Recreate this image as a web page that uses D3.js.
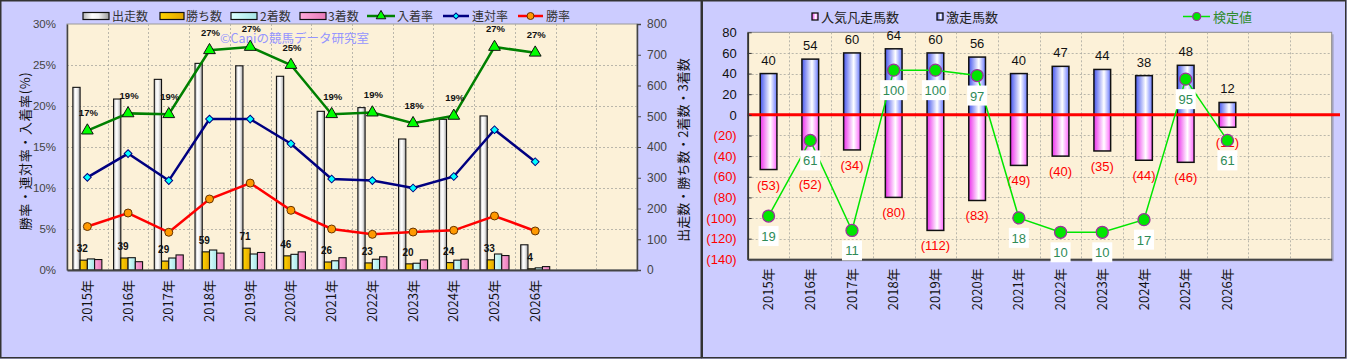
<!DOCTYPE html>
<html><head><meta charset="utf-8">
<script src="https://cdn.jsdelivr.net/npm/d3@7"></script>
<style>
html,body{margin:0;padding:0;background:#ccccff;}
svg{display:block;font-family:"Liberation Sans","Noto Sans CJK JP",sans-serif;}
</style></head><body>
<svg id="c" width="1347" height="359"></svg>
<script>
// ---------- DATA ----------
const years = ["2015年","2016年","2017年","2018年","2019年","2020年","2021年","2022年","2023年","2024年","2025年","2026年"];
const slotCount = 14; // two empty slots after 2026
// left chart
const runs    = [594,556,620,672,664,630,516,528,426,490,501,82];
const wins    = [32,39,29,59,71,46,26,23,20,24,33,4];
const seconds = [36,40,39,65,52,51,30,35,22,32,52,7];
const thirds  = [34,27,49,55,57,59,40,43,33,35,47,11];
const placeRate    = [17.0,19.1,19.0,26.8,27.2,25.0,19.0,19.2,17.9,18.8,27.2,26.5];
const placeLabels  = ["17%","19%","19%","27%","27%","25%","19%","19%","18%","19%","27%","27%"];
const quinellaRate = [11.3,14.2,10.9,18.4,18.4,15.4,11.1,10.9,10.0,11.4,17.1,13.2];
const winRate      = [5.3,6.95,4.6,8.66,10.6,7.28,5.0,4.35,4.63,4.84,6.59,4.76];
const pctTicks   = [0,5,10,15,20,25,30];
const countTicks = [0,100,200,300,400,500,600,700,800];
// right chart
const hotRuns   = [40,54,60,64,60,56,40,47,44,38,48,12];
const favFails  = [53,52,34,80,112,83,49,40,35,44,46,12];
const testValues = [19,61,11,100,100,97,18,10,10,17,95,61];
const rightTicks = [80,60,40,20,0,-20,-40,-60,-80,-100,-120,-140];

// ---------- SETUP ----------
const W = 1347, H = 359;
const svg = d3.select("#c");
svg.append("rect").attr("width", W).attr("height", H).attr("fill", "#ccccff");
const defs = svg.append("defs");
function grad(id, stops) {
  const g = defs.append("linearGradient").attr("id", id).attr("x1", 0).attr("y1", 0).attr("x2", 1).attr("y2", 0);
  stops.forEach(([o, c]) => g.append("stop").attr("offset", o).attr("stop-color", c));
}
grad("gRuns",   [[0,"#b5b5b5"],[0.35,"#ffffff"],[0.6,"#f2f2f2"],[1,"#9c9c9c"]]);
grad("gWin",    [[0,"#ffd400"],[1,"#e3a600"]]);
grad("gSecond", [[0,"#dcffff"],[1,"#a6e6e6"]]);
grad("gThird",  [[0,"#ffaadb"],[1,"#e77ab8"]]);
grad("gHot",    [[0,"#4656ee"],[0.6,"#ffffff"],[1,"#6878ff"]]);
grad("gFav",    [[0,"#ec30ec"],[0.6,"#ffffff"],[1,"#ff66ff"]]);

// panel borders
svg.append("rect").attr("x", 0.75).attr("y", 0.75).attr("width", 700.5).attr("height", 357)
  .attr("fill", "none").attr("stroke", "#333").attr("stroke-width", 1.5);
svg.append("rect").attr("x", 702.25).attr("y", 0.75).attr("width", 643.5).attr("height", 357)
  .attr("fill", "none").attr("stroke", "#333").attr("stroke-width", 1.5);

const CJK = "'Noto Sans CJK JP','Liberation Sans',sans-serif";

// ================= LEFT CHART =================
const L = {x0: 67, x1: 637, y0: 24, y1: 270};
const xL = d3.scaleBand().domain(d3.range(slotCount)).range([L.x0, L.x1]);
const bw = xL.bandwidth();
const yPct = d3.scaleLinear().domain([0, 30]).range([L.y1, L.y0]);
const yCnt = d3.scaleLinear().domain([0, 800]).range([L.y1, L.y0]);
const gL = svg.append("g");

gL.append("rect").attr("x", L.x0).attr("y", L.y0).attr("width", L.x1 - L.x0).attr("height", L.y1 - L.y0)
  .attr("fill", "#fcf1d8").attr("stroke", "#9a9a9a");
// grid
gL.append("g").selectAll("line").data(pctTicks.filter(d => d > 0 && d < 30)).join("line")
  .attr("x1", L.x0).attr("x2", L.x1)
  .attr("y1", d => Math.round(yPct(d)) + 0.5).attr("y2", d => Math.round(yPct(d)) + 0.5)
  .attr("stroke", "#a8a8a0").attr("stroke-dasharray", "2,2").attr("stroke-width", 0.8);
gL.append("g").selectAll("line").data(d3.range(1, slotCount)).join("line")
  .attr("x1", i => Math.round(xL(i)) + 0.5).attr("x2", i => Math.round(xL(i)) + 0.5)
  .attr("y1", L.y0).attr("y2", L.y1)
  .attr("stroke", "#a8a8a0").attr("stroke-dasharray", "2,2").attr("stroke-width", 0.8);

// watermark
gL.append("text").attr("x", 220).attr("y", 42.5).attr("font-size", 12.5).attr("fill", "#9595ff")
  .style("font-family", CJK).text("©Caniの競馬データ研究室");

// bars
const inner = d3.scaleBand().domain(["runs","win","second","third"]).range([bw/2 - 14.5, bw/2 + 14.5]);
const barSeries = [
  {key: "runs", vals: runs, fill: "url(#gRuns)"},
  {key: "win", vals: wins, fill: "url(#gWin)"},
  {key: "second", vals: seconds, fill: "url(#gSecond)"},
  {key: "third", vals: thirds, fill: "url(#gThird)"}
];
barSeries.forEach(s => {
  gL.append("g").selectAll("rect").data(s.vals).join("rect")
    .attr("x", (d, i) => xL(i) + inner(s.key))
    .attr("width", inner.bandwidth())
    .attr("y", d => yCnt(d))
    .attr("height", d => yCnt(0) - yCnt(d))
    .attr("fill", s.fill).attr("stroke", "#111").attr("stroke-width", 1.1);
});

// axes
const axL = gL.append("g").attr("transform", `translate(${L.x0},0)`)
  .call(d3.axisLeft(yPct).tickValues(pctTicks).tickFormat(d => d + "%").tickSize(0).tickPadding(11));
axL.select(".domain").attr("stroke", "#444").attr("stroke-width", 1.5);
axL.selectAll("text").attr("font-size", 11.5).attr("fill", "#444").style("font-family", "'Liberation Sans',sans-serif");

const axR = gL.append("g").attr("transform", `translate(${L.x1},0)`)
  .call(d3.axisRight(yCnt).tickValues(countTicks).tickSize(4).tickPadding(6));
axR.select(".domain").attr("stroke", "#444").attr("stroke-width", 1.5);
axR.selectAll("line").attr("stroke", "#444");
axR.selectAll("text").attr("font-size", 12).attr("fill", "#444").style("font-family", "'Liberation Sans',sans-serif");

const axB = gL.append("g").attr("transform", `translate(0,${L.y1})`)
  .call(d3.axisBottom(xL).tickSize(0).tickFormat(i => years[i] || ""));
axB.select(".domain").attr("stroke", "#444").attr("stroke-width", 1.8);
axB.selectAll("text").attr("font-size", 13).attr("fill", "#111")
  .attr("y", 0).attr("x", -10).attr("dy", "0.35em").attr("transform", "rotate(-90)")
  .style("text-anchor", "end").style("font-family", CJK);

// axis titles
gL.append("text").attr("transform", "translate(30,151) rotate(-90)").attr("text-anchor", "middle")
  .attr("font-size", 13).attr("letter-spacing", 0.6).attr("fill", "#111").style("font-family", CJK).text("勝率・連対率・入着率(%)");
gL.append("text").attr("transform", "translate(688,150) rotate(-90)").attr("text-anchor", "middle")
  .attr("font-size", 13).attr("fill", "#111").style("font-family", CJK).text("出走数・勝ち数・2着数・3着数");

// lines
const cx = i => xL(i) + bw / 2;
const lineSeries = [
  {vals: placeRate, color: "#008000"},
  {vals: quinellaRate, color: "#000080"},
  {vals: winRate, color: "#ff0000"}
];
lineSeries.forEach(s => {
  gL.append("path").datum(s.vals)
    .attr("d", d3.line().x((d, i) => cx(i)).y(d => yPct(d)))
    .attr("fill", "none").attr("stroke", s.color).attr("stroke-width", 2.5);
});
// markers
gL.append("g").selectAll("path").data(placeRate).join("path")
  .attr("transform", (d, i) => `translate(${cx(i)},${yPct(d)})`)
  .attr("d", d3.symbol(d3.symbolTriangle, 60))
  .attr("fill", "#00ff00").attr("stroke", "#111").attr("stroke-width", 1);
gL.append("g").selectAll("path").data(quinellaRate).join("path")
  .attr("transform", (d, i) => `translate(${cx(i)},${yPct(d)}) rotate(45)`)
  .attr("d", d3.symbol(d3.symbolSquare, 30))
  .attr("fill", "#00ffff").attr("stroke", "#000080").attr("stroke-width", 1);
gL.append("g").selectAll("circle").data(winRate).join("circle")
  .attr("cx", (d, i) => cx(i)).attr("cy", d => yPct(d)).attr("r", 4)
  .attr("fill", "#ff9900").attr("stroke", "#663300").attr("stroke-width", 1);

// labels
gL.append("g").selectAll("text").data(placeLabels).join("text")
  .attr("x", (d, i) => cx(i) + 1).attr("y", (d, i) => yPct(placeRate[i]) - 14.5)
  .attr("text-anchor", "middle").attr("font-size", 9.5).attr("font-weight", "bold").attr("fill", "#111")
  .text(d => d);
gL.append("g").selectAll("text").data(wins).join("text")
  .attr("x", (d, i) => xL(i) + inner("win") + inner.bandwidth() / 2 - 1.5)
  .attr("y", d => yCnt(d) - 8)
  .attr("text-anchor", "middle").attr("font-size", 10).attr("font-weight", "bold").attr("fill", "#111")
  .text(d => d);

// legend (left)
const legL = gL.append("g").style("font-family", CJK).attr("font-size", 12).attr("fill", "#333");
[[83, 26, "url(#gRuns)", "出走数", 112], [160, 24, "url(#gWin)", "勝ち数", 186],
 [231, 26, "url(#gSecond)", "2着数", 260], [300, 26, "url(#gThird)", "3着数", 328]].forEach(([x, w, f, t, tx]) => {
  legL.append("rect").attr("x", x).attr("y", 12.5).attr("width", w).attr("height", 7)
    .attr("fill", f).attr("stroke", "#111").attr("stroke-width", 1.2);
  legL.append("text").attr("x", tx).attr("y", 20.5).text(t);
});
[[367, 395, "#008000", "入着率", 397, "tri"], [443, 469, "#000080", "連対率", 472, "dia"], [518, 543, "#ff0000", "勝率", 546, "cir"]]
.forEach(([a, b, c, t, tx, m]) => {
  legL.append("line").attr("x1", a).attr("x2", b).attr("y1", 16).attr("y2", 16).attr("stroke", c).attr("stroke-width", 2.5);
  const mx = (a + b) / 2;
  if (m === "tri") legL.append("path").attr("transform", `translate(${mx},16)`).attr("d", d3.symbol(d3.symbolTriangle, 40)).attr("fill", "#00ff00").attr("stroke", "#111");
  if (m === "dia") legL.append("path").attr("transform", `translate(${mx},16) rotate(45)`).attr("d", d3.symbol(d3.symbolSquare, 18)).attr("fill", "#00ffff").attr("stroke", "#000080");
  if (m === "cir") legL.append("circle").attr("cx", mx).attr("cy", 16).attr("r", 3.5).attr("fill", "#ff9900").attr("stroke", "#663300");
  legL.append("text").attr("x", tx).attr("y", 20.5).text(t);
});

// ================= RIGHT CHART =================
const R = {x0: 747.7, x1: 1331.7, y0: 32.3, y1: 259.3};
const xR = d3.scaleBand().domain(d3.range(slotCount)).range([R.x0, R.x1]);
const bwR = xR.bandwidth();
const yR = d3.scaleLinear().domain([-140, 80]).range([R.y1, R.y0]);
const yS = d3.scaleLinear().domain([-5, 121]).range([R.y1, R.y0]);
const gR = svg.append("g");

gR.append("rect").attr("x", R.x0 + 2).attr("y", R.y0 + 2).attr("width", R.x1 - R.x0).attr("height", R.y1 - R.y0).attr("fill", "#a8a8c8");
gR.append("rect").attr("x", R.x0).attr("y", R.y0).attr("width", R.x1 - R.x0).attr("height", R.y1 - R.y0)
  .attr("fill", "#fcf1d8").attr("stroke", "#8a8a8a");
gR.append("g").selectAll("line").data(rightTicks.filter(d => d > -140 && d < 80)).join("line")
  .attr("x1", R.x0).attr("x2", R.x1)
  .attr("y1", d => Math.round(yR(d)) + 0.5).attr("y2", d => Math.round(yR(d)) + 0.5)
  .attr("stroke", "#a8a8a0").attr("stroke-dasharray", "2,2").attr("stroke-width", 0.8);
gR.append("g").selectAll("line").data(d3.range(1, slotCount)).join("line")
  .attr("x1", i => Math.round(xR(i)) + 0.5).attr("x2", i => Math.round(xR(i)) + 0.5)
  .attr("y1", R.y0).attr("y2", R.y1)
  .attr("stroke", "#a8a8a0").attr("stroke-dasharray", "2,2").attr("stroke-width", 0.8);

const barW = 16.7;
gR.append("g").selectAll("rect").data(hotRuns).join("rect")
  .attr("x", (d, i) => xR(i) + bwR / 2 - barW / 2).attr("width", barW)
  .attr("y", d => yR(d)).attr("height", d => yR(0) - yR(d))
  .attr("fill", "url(#gHot)").attr("stroke", "#111").attr("stroke-width", 1.5);
gR.append("g").selectAll("rect").data(favFails).join("rect")
  .attr("x", (d, i) => xR(i) + bwR / 2 - barW / 2).attr("width", barW)
  .attr("y", yR(0)).attr("height", d => yR(-d) - yR(0))
  .attr("fill", "url(#gFav)").attr("stroke", "#111").attr("stroke-width", 1.5);

// zero line
gR.append("line").attr("x1", R.x0).attr("x2", 1340).attr("y1", yR(0)).attr("y2", yR(0))
  .attr("stroke", "#ff0000").attr("stroke-width", 3);

// axes
const axRL = gR.append("g").attr("transform", `translate(${R.x0},0)`)
  .call(d3.axisLeft(yR).tickValues(rightTicks).tickSizeInner(-4).tickSizeOuter(0).tickPadding(11)
    .tickFormat(d => d < 0 ? `(${-d})` : `${d}`));
axRL.select(".domain").attr("stroke", "#333").attr("stroke-width", 1.8);
axRL.selectAll("line").attr("stroke", "#333");
axRL.selectAll("text").attr("font-size", 13).attr("fill", d => d < 0 ? "#ff0000" : "#111")
  .style("font-family", "'Liberation Sans',sans-serif");

const axRB = gR.append("g").attr("transform", `translate(0,${R.y1})`)
  .call(d3.axisBottom(xR).tickSize(0).tickFormat(i => years[i] || ""));
axRB.select(".domain").attr("stroke", "#444").attr("stroke-width", 2);
axRB.selectAll("text").attr("font-size", 13).attr("fill", "#111")
  .attr("y", 0).attr("x", -9).attr("dy", "0.35em").attr("transform", "rotate(-90)")
  .style("text-anchor", "end").style("font-family", CJK);

// bar labels
gR.append("g").selectAll("text").data(hotRuns).join("text")
  .attr("x", (d, i) => xR(i) + bwR / 2).attr("y", d => yR(d) - 9)
  .attr("text-anchor", "middle").attr("font-size", 13).attr("fill", "#111").text(d => d);
gR.append("g").selectAll("text").data(favFails).join("text")
  .attr("x", (d, i) => xR(i) + bwR / 2).attr("y", d => yR(-d) + 20)
  .attr("text-anchor", "middle").attr("font-size", 13).attr("fill", "#ff0000").text(d => `(${d})`);

// test value line
const cxR = i => xR(i) + bwR / 2;
gR.append("path").datum(testValues)
  .attr("d", d3.line().x((d, i) => cxR(i)).y(d => yS(d)))
  .attr("fill", "none").attr("stroke", "#00e600").attr("stroke-width", 1.5);
const tl = gR.append("g").selectAll("g").data(testValues).join("g")
  .attr("transform", (d, i) => `translate(${cxR(i)},${yS(d)})`);
tl.append("rect").attr("x", d => -(String(d).length * 7 + 6) / 2).attr("y", 10)
  .attr("width", d => String(d).length * 7 + 6).attr("height", 20).attr("fill", "#ffffff");
tl.append("text").attr("y", 25).attr("text-anchor", "middle").attr("font-size", 13).attr("fill", "#2e8b57").text(d => d);
gR.append("g").selectAll("circle").data(testValues).join("circle")
  .attr("cx", (d, i) => cxR(i)).attr("cy", d => yS(d)).attr("r", 6)
  .attr("fill", "#00e600").attr("stroke", "#993399").attr("stroke-width", 1.3);

// legend (right)
const legR = gR.append("g").style("font-family", CJK).attr("font-size", 13).attr("fill", "#222");
legR.append("rect").attr("x", 812).attr("y", 13).attr("width", 6).attr("height", 7).attr("fill", "url(#gFav)").attr("stroke", "#111").attr("stroke-width", 1.3);
legR.append("text").attr("x", 821).attr("y", 21.5).text("人気凡走馬数");
legR.append("rect").attr("x", 937).attr("y", 13).attr("width", 6).attr("height", 7).attr("fill", "url(#gHot)").attr("stroke", "#111").attr("stroke-width", 1.3);
legR.append("text").attr("x", 946).attr("y", 21.5).text("激走馬数");
legR.append("line").attr("x1", 1183).attr("x2", 1210).attr("y1", 16.5).attr("y2", 16.5).attr("stroke", "#00e600").attr("stroke-width", 1.5);
legR.append("circle").attr("cx", 1196.7).attr("cy", 16.5).attr("r", 4).attr("fill", "#00e600").attr("stroke", "#993399").attr("stroke-width", 1.2);
legR.append("text").attr("x", 1213).attr("y", 21.5).attr("fill", "#2e8b2e").text("検定値");
</script>
</body></html>
